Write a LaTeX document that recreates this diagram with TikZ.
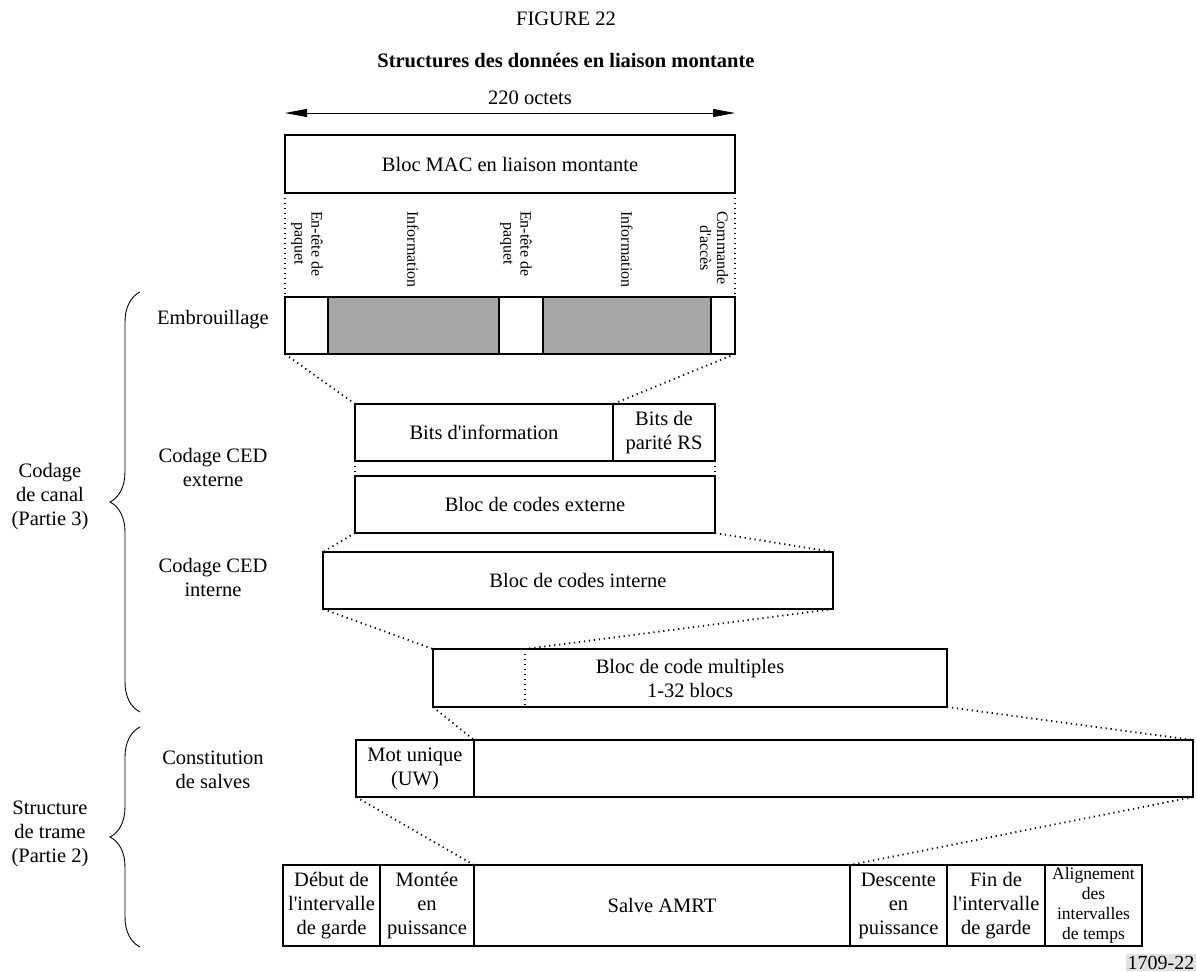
\documentclass[tikz,border=0pt]{standalone}
\usepackage{fontspec}
\setmainfont{Liberation Serif}[Ligatures=TeXOff]
\usepackage{tikz}
\usetikzlibrary{arrows.meta,calc,decorations.pathreplacing}
\definecolor{cellgray}{RGB}{166,166,166}
\definecolor{tagbg}{RGB}{226,226,226}
\tikzset{
  cell/.style 2 args={draw, line width=2.5pt, anchor=north west, inner sep=0pt, outer sep=0pt, align=center, minimum width=#1, minimum height=#2},
  link/.style={line width=1.8pt, dash pattern=on 1.2pt off 3.8pt},
  vtext/.style={rotate=-90, anchor=west, align=center, inner sep=0pt, font=\fontsize{16}{17}\selectfont},
  side/.style={align=center, inner sep=0pt},
  grp/.style={decorate, decoration={brace, amplitude=30pt}, line width=0.9pt}
}
\begin{document}
\begin{tikzpicture}[x=1pt, y=-1pt, font=\fontsize{20.5}{24}\selectfont]
\useasboundingbox (0,0) rectangle (1197,972);

\node (fig) at (566,19) {FIGURE 22};
\node[font=\fontsize{20.5}{24}\selectfont\bfseries] (title) at (566,61) {Structures des données en liaison montante};
\node (octets) at (530,98) {220 octets};
\coordinate (octL) at (285,113);
\coordinate (octR) at (735,113);
\draw[{Triangle[length=22pt,width=8pt]}-{Triangle[length=22pt,width=8pt]}, line width=0.9pt] (octL) -- (octR);

\node[cell={450}{58}] (mac) at (285,135) {Bloc MAC en liaison montante};

\node[cell={43}{57}] (emb1) at (285,297) {};
\node[cell={171}{57}, fill=cellgray] (emb2) at (emb1.north east) {};
\node[cell={44}{57}] (emb3) at (emb2.north east) {};
\node[cell={168}{57}, fill=cellgray] (emb4) at (emb3.north east) {};
\node[cell={24}{57}] (emb5) at (emb4.north east) {};
\draw[link] (mac.south west) -- (emb1.north west);
\draw[link] (mac.south east) -- (emb5.north east);

\node[vtext] (hdrA) at (307,211) {En-tête de\\paquet};
\node[vtext] (infoA) at (413,211) {Information};
\node[vtext] (hdrB) at (516,211) {En-tête de\\paquet};
\node[vtext] (infoB) at (627,211) {Information};
\node[vtext] (cmd) at (714,211) {Commande\\d'accès};

\node[side] (scr) at (213,320) {Embrouillage};
\node[side] (cedExt) at (213,467) {Codage CED\\externe};
\node[side] (cedInt) at (213,577) {Codage CED\\interne};
\node[side] (canal) at (50,497) {Codage\\de canal\\(Partie 3)};
\node[side] (salves) at (213,770) {Constitution\\de salves};
\node[side] (trame) at (50,834) {Structure\\de trame\\(Partie 2)};
\draw[grp] (140,712) -- (140,292);
\draw[grp] (140,947) -- (140,727);

\node[cell={258}{57}] (bitsI) at (355,404) {Bits d'information};
\node[cell={102}{57}] (bitsP) at (bitsI.north east) {Bits de\\parité RS};
\node[cell={360}{57}] (ext) at (355,476) {Bloc de codes externe};
\node[cell={510}{57}] (inn) at (323,552) {Bloc de codes interne};
\node[cell={514}{58}] (mult) at (433,649) {Bloc de code multiples\\1-32 blocs};
\coordinate (multT) at ($(mult.north west)+(92,0)$);
\coordinate (multB) at ($(mult.south west)+(92,0)$);
\draw[link, line width=1.3pt] (multT) -- (multB);

\node[cell={118}{57}] (uw) at (356,740) {Mot unique\\(UW)};
\node[cell={719}{57}] (burst) at (uw.north east) {};

\node[cell={97}{81}] (gdA) at (283,865) {Début de\\l'intervalle\\de garde};
\node[cell={94}{81}] (rampU) at (gdA.north east) {Montée\\en\\puissance};
\node[cell={376}{81}] (salve) at (rampU.north east) {Salve AMRT};
\node[cell={97}{81}] (rampD) at (salve.north east) {Descente\\en\\puissance};
\node[cell={98}{81}] (gdB) at (rampD.north east) {Fin de\\l'intervalle\\de garde};
\node[cell={97}{81}, font=\fontsize{17.5}{20}\selectfont] (tsAlign) at (gdB.north east) {Alignement\\des\\intervalles\\de temps};

\draw[link] (emb1.south west) -- (bitsI.north west);
\draw[link] (emb5.south east) -- (bitsP.north west);
\draw[link] (bitsI.south west) -- (ext.north west);
\draw[link] (bitsP.south east) -- (ext.north east);
\draw[link] (ext.south west) -- (inn.north west);
\draw[link] (ext.south east) -- (inn.north east);
\draw[link] (inn.south west) -- (mult.north west);
\draw[link] (inn.south east) -- (multT);
\draw[link] (mult.south west) -- (uw.north east);
\draw[link] (mult.south east) -- (burst.north east);
\draw[link] (uw.south west) -- (salve.north west);
\draw[link] (burst.south east) -- (rampD.north west);

\node[anchor=south east, fill=tagbg, inner sep=1.5pt, font=\fontsize{20}{22}\selectfont] (tag) at (1196,971) {1709-22};
\end{tikzpicture}
\end{document}
